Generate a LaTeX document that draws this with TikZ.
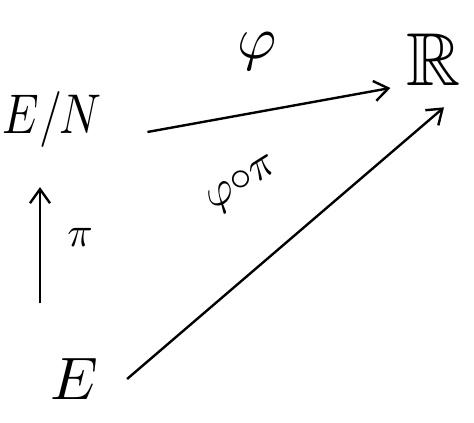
\documentclass[tikz,border=0pt]{standalone}
\usepackage{amssymb}
\usetikzlibrary{arrows.meta,calc}
\begin{document}
\begin{tikzpicture}[x=1pt,y=1pt,
  lbl/.style={inner sep=0pt, scale=6},
  arr/.style={line width=2.4pt, -{Straight Barb[length=14pt,width=20pt,line width=2.4pt]}}]
\useasboundingbox (0,0) rectangle (474,423);
\node[inner sep=0pt, xscale=4.6, yscale=5.6] (EN) at (52,303) {$E/N$};
\node[inner sep=0pt, scale=7.5] (R) at (434,363) {$\mathbb{R}$};
\node[lbl] (E) at (74,44) {$E$};
\node[lbl] (phi) at (257,372) {$\varphi$};
\node[inner sep=0pt, scale=4.2] (pi) at (80,186) {$\pi$};
\node[inner sep=0pt, scale=4.4, rotate=32] (phipi) at (243,238) {$\varphi{\circ}\pi$};
\draw[arr] ($(EN.east)+(45,-12)$) -- ($(R.west)+(-15,-28)$);
\draw[arr] ($(E.north)+(-34,54)$) -- ($(EN.south)+(-12,-38)$);
\draw[arr] ($(E.east)+(28,0)$) -- ($(R.south)+(10,-20)$);
\end{tikzpicture}
\end{document}
